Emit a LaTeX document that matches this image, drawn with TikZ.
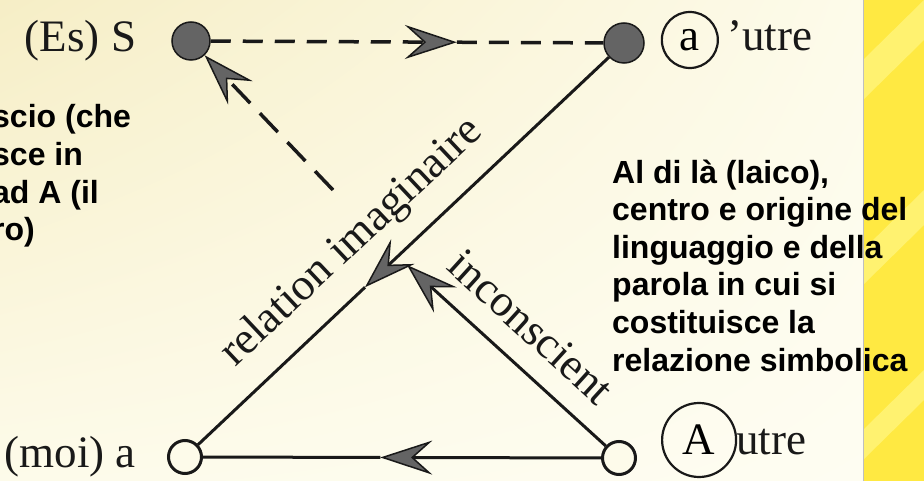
\documentclass[tikz,border=0pt]{standalone}
\usepackage{fontspec}
\setmainfont{Liberation Serif}
\newfontfamily\notefont{Liberation Sans}
\usepackage{tikz}
\usetikzlibrary{positioning, arrows.meta, calc, shadings}
\definecolor{crema}{RGB}{253,251,234}
\definecolor{cremascura}{RGB}{246,238,198}
\definecolor{cremachiara}{RGB}{254,253,242}
\definecolor{giallo}{RGB}{255,233,66}
\definecolor{giallochiaro}{RGB}{255,242,112}
\definecolor{grigio}{RGB}{100,100,100}
\definecolor{inchiostro}{RGB}{25,25,25}
\tikzset{
  pieno/.style={circle, draw=inchiostro, line width=1.5pt, fill=grigio, minimum size=38pt, inner sep=0pt},
  vuoto/.style={circle, draw=inchiostro, line width=3pt, fill=crema, minimum size=33pt, inner sep=0pt},
  ring/.style={circle, draw=inchiostro, line width=2.2pt, inner sep=0pt, font=\fontsize{45}{50}\selectfont},
  lbl/.style={font=\fontsize{45}{50}\selectfont, inner sep=0pt, text=inchiostro},
  nota/.style={font=\notefont\bfseries\fontsize{32}{37.6}\selectfont, align=left, inner sep=0pt},
  tratto/.style={draw=inchiostro, line width=3pt},
  dline/.style={tratto, line width=3.5pt, dash pattern=on 20pt off 12pt},
  arrow/.style={-{Stealth[length=52pt, width=34pt, inset=19pt, fill=grigio, line width=1.5pt]}}
}

\begin{document}
\begin{tikzpicture}[x=1pt, y=1pt]
    \useasboundingbox (0,0) rectangle (924,-481);
    \clip (0,0) rectangle (924,-481);

    % Sfondo
    \shade[upper left=cremascura, upper right=crema, lower left=crema, lower right=cremachiara] (0,0) rectangle (863,-481);
    \fill[giallo] (863,0) rectangle (924,-481);
    \fill[giallochiaro] (863,-60) -- (924,0) -- (924,-40) -- (863,-100) -- cycle;
    \fill[giallochiaro] (863,-250) -- (924,-190) -- (924,-225) -- (863,-285) -- cycle;
    \fill[giallochiaro] (863,-430) -- (924,-370) -- (924,-400) -- (863,-460) -- cycle;
    \draw[color=black!25, line width=1pt] (863,0) -- (863,-481);

    % Punti dello schema
    \node (S) [pieno] at (191,-41) {};
    \node (ap) [pieno, minimum size=40pt] at (624,-43) {};
    \node (moi) [vuoto] at (185,-457) {};
    \node (autre) [vuoto] at (619,-458) {};

    % Etichette
    \node (es) [lbl, left=35pt of S] {(Es) S};
    \node (moilbl) [lbl, left=31pt of moi] {(moi) a};
    \node (cira) [ring, minimum size=56pt, right=16pt of ap, yshift=3pt] {a};
    \node (utre1) [lbl, anchor=base west, xshift=8pt] at (cira.east |- cira.base) {’utre};
    \node (cirA) [ring, minimum size=74pt, right=24pt of autre, yshift=18pt] {A};
    \node (utre2) [lbl, anchor=base west, xshift=-1pt] at (cirA.east |- cirA.base) {utre};
    \node (relimg) [lbl, rotate=43.3] at (352,-243) {relation imaginaire};
    \node (incons) [lbl, rotate=-42.3] at (531,-327) {inconscient};

    % Note
    \node (notasx) [nota, anchor=north west] at (-8,-104.5)
    {scio (che\\sce in\\ad A (il\\ro)};
    \node (notadx) [nota, anchor=north west] at (612,-159.5)
    {Al di là (laico),\\centro e origine del\\linguaggio e della\\parola in cui si\\costituisce la\\relazione simbolica};

    % Frecce
    \coordinate (m1) at ($(S)!0.614!(ap)$);
    \coordinate (m2) at ($(ap)!0.59!(moi)$);
    \coordinate (m3) at ($(autre)!0.55!(moi)$);
    \coordinate (inctip) at (407,-265);
    \coordinate (dstart) at (333,-190);
    \draw [dline, arrow] (S) -- (m1);
    \draw [dline] (m1) -- (ap);
    \draw [tratto, arrow] (ap) -- (m2);
    \draw [tratto] (m2) -- (moi);
    \draw [tratto, arrow] (autre) -- (m3);
    \draw [tratto] (m3) -- (moi);
    \draw [tratto, arrow] (autre) -- (inctip);
    \draw [dline, dash pattern=on 26pt off 14pt, arrow] (dstart) -- (S);

\end{tikzpicture}
\end{document}
